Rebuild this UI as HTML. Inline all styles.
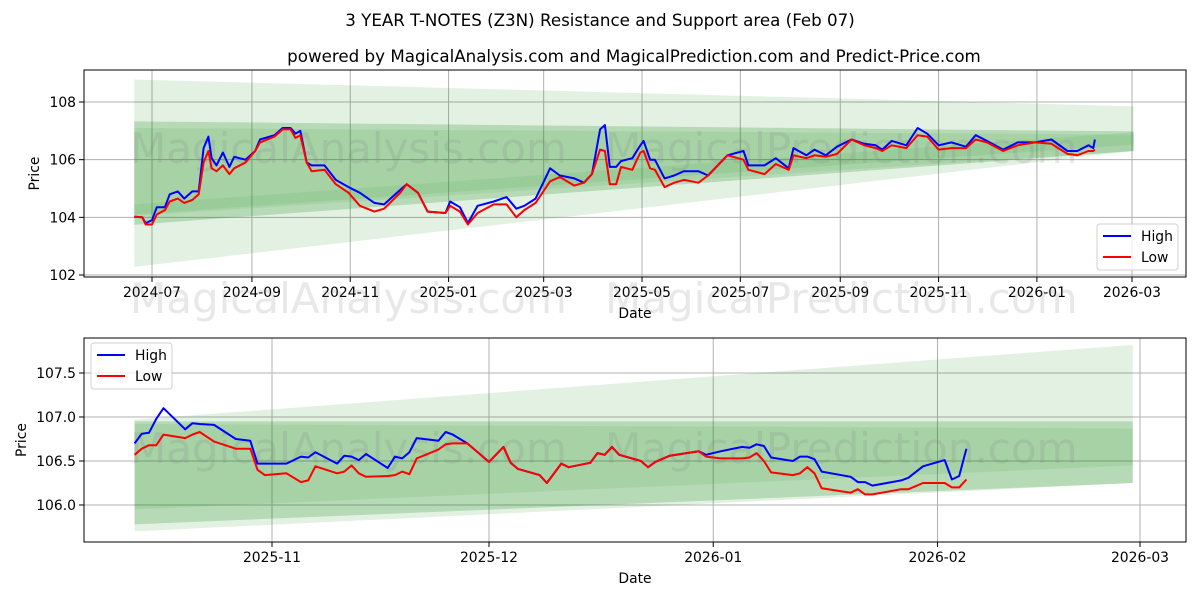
<!DOCTYPE html>
<html><head><meta charset="utf-8"><style>
body{margin:0;background:#fff;}
svg{display:block;font-family:"DejaVu Sans","Liberation Sans",sans-serif;}
</style></head><body>
<svg id="chart" width="1200" height="600" viewBox="0 0 1200 600" xmlns="http://www.w3.org/2000/svg">
<text x="600" y="26" text-anchor="middle" font-size="16.7">3 YEAR T-NOTES (Z3N) Resistance and Support area (Feb 07)</text>
<text x="634" y="62" text-anchor="middle" font-size="16.7">powered by MagicalAnalysis.com and MagicalPrediction.com and Predict-Price.com</text>
</svg>
<script>
// ---- top chart data ----
const topDates = ["2024-06-20","2024-06-25","2024-06-27","2024-07-01","2024-07-04","2024-07-09","2024-07-12","2024-07-17","2024-07-21","2024-07-26","2024-07-30","2024-08-02","2024-08-05","2024-08-07","2024-08-10","2024-08-14","2024-08-18","2024-08-21","2024-08-28","2024-09-03","2024-09-06","2024-09-15","2024-09-20","2024-09-25","2024-09-28","2024-10-01","2024-10-05","2024-10-08","2024-10-16","2024-10-23","2024-10-31","2024-11-07","2024-11-16","2024-11-22","2024-12-02","2024-12-06","2024-12-13","2024-12-19","2024-12-30","2025-01-02","2025-01-08","2025-01-13","2025-01-19","2025-01-29","2025-02-06","2025-02-12","2025-02-17","2025-02-24","2025-03-02","2025-03-05","2025-03-11","2025-03-20","2025-03-26","2025-03-31","2025-04-05","2025-04-08","2025-04-11","2025-04-15","2025-04-18","2025-04-25","2025-04-30","2025-05-02","2025-05-06","2025-05-09","2025-05-15","2025-05-21","2025-05-27","2025-06-05","2025-06-11","2025-06-23","2025-07-03","2025-07-06","2025-07-16","2025-07-23","2025-07-31","2025-08-03","2025-08-11","2025-08-16","2025-08-23","2025-08-30","2025-09-08","2025-09-16","2025-09-23","2025-09-27","2025-10-03","2025-10-12","2025-10-19","2025-10-25","2025-11-01","2025-11-09","2025-11-18","2025-11-24","2025-12-01","2025-12-11","2025-12-20","2025-12-31","2026-01-10","2026-01-20","2026-01-26","2026-02-02","2026-02-05","2026-02-06"];
const topHigh = [104.02,104.0,103.8,103.9,104.35,104.35,104.8,104.9,104.65,104.9,104.9,106.4,106.8,106.05,105.8,106.25,105.75,106.1,106.0,106.3,106.7,106.85,107.1,107.1,106.9,107.0,105.9,105.8,105.8,105.3,105.05,104.85,104.5,104.45,104.95,105.15,104.85,104.2,104.15,104.55,104.35,103.8,104.4,104.55,104.7,104.3,104.4,104.65,105.35,105.7,105.45,105.35,105.2,105.5,107.05,107.2,105.75,105.75,105.95,106.05,106.5,106.65,106.0,106.0,105.35,105.45,105.6,105.6,105.45,106.15,106.3,105.8,105.8,106.05,105.7,106.4,106.15,106.35,106.15,106.45,106.7,106.55,106.5,106.35,106.65,106.5,107.1,106.9,106.5,106.6,106.45,106.85,106.65,106.35,106.6,106.6,106.7,106.3,106.3,106.5,106.4,106.7];
const topLow = [104.02,104.0,103.75,103.75,104.1,104.25,104.55,104.65,104.5,104.6,104.8,105.9,106.3,105.7,105.6,105.8,105.5,105.7,105.9,106.3,106.6,106.8,107.05,107.05,106.75,106.85,105.9,105.6,105.65,105.15,104.85,104.4,104.2,104.3,104.85,105.15,104.85,104.2,104.15,104.4,104.2,103.75,104.15,104.45,104.45,104.0,104.25,104.5,105.0,105.25,105.4,105.1,105.2,105.5,106.35,106.3,105.15,105.15,105.75,105.65,106.25,106.3,105.7,105.65,105.05,105.2,105.3,105.2,105.45,106.15,106.0,105.65,105.5,105.85,105.65,106.15,106.05,106.15,106.1,106.2,106.7,106.5,106.4,106.3,106.5,106.4,106.85,106.8,106.35,106.4,106.4,106.7,106.6,106.3,106.5,106.6,106.55,106.2,106.15,106.3,106.3,106.35];
const topYTicks = [102,104,106,108];
const topXTicks = ["2024-07-01","2024-09-01","2024-11-01","2025-01-01","2025-03-01","2025-05-01","2025-07-01","2025-09-01","2025-11-01","2026-01-01","2026-03-01"];
const topXLabels = ["2024-07","2024-09","2024-11","2025-01","2025-03","2025-05","2025-07","2025-09","2025-11","2026-01","2026-03"];
const topBandDates = ["2024-06-20","2026-03-02"];
const topBandA = [[108.78,102.28],[107.85,106.3]];
const topBandB = [[107.33,103.74],[106.98,106.3]];
const topBandC = [[107.1,104.1],[106.87,106.52]];
const topBandD = [[104.45,104.05],[106.95,106.3]];

// ---- bottom chart data ----
const botDates = ["2025-10-13","2025-10-14","2025-10-15","2025-10-16","2025-10-17","2025-10-20","2025-10-21","2025-10-22","2025-10-24","2025-10-27","2025-10-29","2025-10-30","2025-10-31","2025-11-03","2025-11-05","2025-11-06","2025-11-07","2025-11-10","2025-11-11","2025-11-12","2025-11-13","2025-11-14","2025-11-17","2025-11-18","2025-11-19","2025-11-20","2025-11-21","2025-11-24","2025-11-25","2025-11-26","2025-11-28","2025-12-01","2025-12-03","2025-12-04","2025-12-05","2025-12-08","2025-12-09","2025-12-11","2025-12-12","2025-12-15","2025-12-16","2025-12-17","2025-12-18","2025-12-19","2025-12-22","2025-12-23","2025-12-24","2025-12-26","2025-12-30","2025-12-31","2026-01-02","2026-01-05","2026-01-06","2026-01-07","2026-01-08","2026-01-09","2026-01-12","2026-01-13","2026-01-14","2026-01-15","2026-01-16","2026-01-20","2026-01-21","2026-01-22","2026-01-23","2026-01-27","2026-01-28","2026-01-30","2026-02-02","2026-02-03","2026-02-04","2026-02-05"];
const botHigh = [106.70,106.81,106.82,106.98,107.10,106.86,106.93,106.92,106.91,106.75,106.73,106.47,106.47,106.47,106.55,106.54,106.60,106.47,106.56,106.55,106.51,106.58,106.42,106.55,106.53,106.60,106.76,106.73,106.83,106.80,106.70,106.49,106.66,106.48,106.41,106.34,106.25,106.47,106.43,106.48,106.59,106.57,106.66,106.57,106.50,106.43,106.49,106.56,106.61,106.57,106.61,106.66,106.65,106.69,106.67,106.54,106.50,106.55,106.55,106.52,106.38,106.32,106.26,106.26,106.22,106.28,106.31,106.44,106.51,106.29,106.33,106.64];
const botLow = [106.57,106.64,106.68,106.68,106.80,106.76,106.80,106.83,106.72,106.64,106.64,106.40,106.34,106.36,106.26,106.28,106.44,106.36,106.38,106.45,106.36,106.32,106.33,106.34,106.38,106.35,106.53,106.63,106.69,106.70,106.70,106.49,106.66,106.48,106.41,106.34,106.25,106.47,106.43,106.48,106.59,106.57,106.66,106.57,106.50,106.43,106.49,106.56,106.61,106.55,106.53,106.53,106.54,106.59,106.50,106.37,106.34,106.36,106.43,106.36,106.19,106.14,106.18,106.12,106.12,106.18,106.18,106.25,106.25,106.20,106.20,106.29];
const botYTicks = [106.0,106.5,107.0,107.5];
const botYLabels = ["106.0","106.5","107.0","107.5"];
const botXTicks = ["2025-11-01","2025-12-01","2026-01-01","2026-02-01","2026-03-01"];
const botXLabels = ["2025-11","2025-12","2026-01","2026-02","2026-03"];
const botBandDates = ["2025-10-13","2026-02-28"];
const botBandA = [[106.97,105.70],[107.82,106.25]];
const botBandB = [[106.95,105.78],[106.95,106.25]];
const botBandC = [[106.92,105.95],[106.87,106.45]];

const NS = "http://www.w3.org/2000/svg";
const svg = document.getElementById("chart");
function mk(tag, attrs, parent){
  const e = document.createElementNS(NS, tag);
  for (const k in attrs) e.setAttribute(k, attrs[k]);
  (parent||svg).appendChild(e);
  return e;
}
const t = s => new Date(s + "T00:00:00Z").getTime();

function drawChart(cfg){
  const g = mk("g", {});
  
  
  const xs = d => cfg.x0px + (t(d) - t(cfg.x0d)) / (t(cfg.x1d) - t(cfg.x0d)) * (cfg.x1px - cfg.x0px);
  const ys = v => cfg.y0px + (v - cfg.y0v) / (cfg.y1v - cfg.y0v) * (cfg.y1px - cfg.y0px);
  cfg.xTicks.forEach((d, i) => {
    const x = xs(d);
    const l = mk("line", {x1:x, x2:x, y1:cfg.top, y2:cfg.bottom, stroke:"#b0b0b0", "stroke-width":1}, g);
    
    
    const tk = mk("line", {x1:x, x2:x, y1:cfg.bottom, y2:cfg.bottom+5, stroke:"#000", "stroke-width":1}, g);
    
    
    const tx = mk("text", {x:x, y:cfg.bottom+20, "text-anchor":"middle", "font-size":13.9, fill:"#000"}, g);
    tx.textContent = cfg.xLabels[i];
    
    
  });
  cfg.yTicks.forEach((v, i) => {
    const y = ys(v);
    const l = mk("line", {x1:cfg.left, x2:cfg.right, y1:y, y2:y, stroke:"#b0b0b0", "stroke-width":1}, g);
    
    
    const tk = mk("line", {x1:cfg.left-5, x2:cfg.left, y1:y, y2:y, stroke:"#000", "stroke-width":1}, g);
    
    
    const tx = mk("text", {x:cfg.left-8, y:y+5, "text-anchor":"end", "font-size":13.9, fill:"#000"}, g);
    tx.textContent = cfg.yLabels[i];
    
    
  });
  cfg.bands.forEach((b, i) => {
    const xa = xs(cfg.bandDates[0]), xb = xs(cfg.bandDates[1]);
    const pts = [[xa, ys(b.v[0][0])],[xb, ys(b.v[1][0])],[xb, ys(b.v[1][1])],[xa, ys(b.v[0][1])]];
    const p = mk("polygon", {points: pts.map(q => q.join(",")).join(" "), fill:"#008000", "fill-opacity":b.op}, g);
    
    
  });
  cfg.marks.forEach(m => {
    const w = mk("text", {x:m[0], y:m[1], "font-size":42, fill:"#808080", "fill-opacity":0.18}, g);
    w.textContent = m[2];
    
    
  });
  const series = [[cfg.high, "#0000ff", "high-line"], [cfg.low, "#ff0000", "low-line"]];
  series.forEach(s => {
    const d = cfg.dates.map((dd, i) => (i ? "L" : "M") + xs(dd).toFixed(1) + "," + ys(s[0][i]).toFixed(1)).join(" ");
    const p = mk("path", {d:d, fill:"none", stroke:s[1], "stroke-width":2, "stroke-linejoin":"round"}, g);
    
    
  });
  const fr = mk("rect", {x:cfg.left, y:cfg.top, width:cfg.right-cfg.left, height:cfg.bottom-cfg.top, fill:"none", stroke:"#000", "stroke-width":1}, g);
  
  
  const xt = mk("text", {x:(cfg.left+cfg.right)/2, y:cfg.bottom+41, "text-anchor":"middle", "font-size":13.9}, g);
  xt.textContent = "Date";
  
  
  const yc = (cfg.top+cfg.bottom)/2;
  const yt = mk("text", {x:cfg.yTitleX, y:yc, "text-anchor":"middle", "font-size":13.9, transform:"rotate(-90 "+cfg.yTitleX+" "+yc+")"}, g);
  yt.textContent = "Price";
  
  
  const L = cfg.legend;
  const lg = mk("g", {}, g);
  
  
  mk("rect", {x:L[0], y:L[1], width:81, height:46, rx:3, fill:"#fff", "fill-opacity":0.8, stroke:"#d0d0d0"}, lg);
  [["High","#0000ff"],["Low","#ff0000"]].forEach((e, i) => {
    const y = L[1] + 12 + i*21;
    const ln = mk("line", {x1:L[0]+6, x2:L[0]+34, y1:y, y2:y, stroke:e[1], "stroke-width":2}, lg);
    
    
    const tx = mk("text", {x:L[0]+44, y:y+5, "font-size":13.9}, lg);
    tx.textContent = e[0];
    
    
  });
}

drawChart({
  name:"top-chart", left:84, right:1186, top:70, bottom:277,
  x0d:"2024-07-01", x1d:"2026-03-01", x0px:152, x1px:1132,
  y0v:102, y1v:108, y0px:275, y1px:102,
  xTicks:topXTicks, xLabels:topXLabels, yTicks:topYTicks, yLabels:topYTicks.map(String),
  bandDates:topBandDates,
  bands:[{v:topBandA, op:0.11},{v:topBandB, op:0.2},{v:topBandC, op:0.08},{v:topBandD, op:0.07}],
  marks:[[130,163,"MagicalAnalysis.com"],[605,163,"MagicalPrediction.com"],[130,313,"MagicalAnalysis.com"],[605,313,"MagicalPrediction.com"]],
  dates:topDates, high:topHigh, low:topLow, yTitleX:39, legend:[1097,224]
});
drawChart({
  name:"bottom-chart", left:84, right:1186, top:338, bottom:542,
  x0d:"2025-11-01", x1d:"2026-03-01", x0px:272, x1px:1140,
  y0v:106, y1v:107.5, y0px:505, y1px:373,
  xTicks:botXTicks, xLabels:botXLabels, yTicks:botYTicks, yLabels:botYLabels,
  bandDates:botBandDates,
  bands:[{v:botBandA, op:0.11},{v:botBandB, op:0.2},{v:botBandC, op:0.08}],
  marks:[[130,463,"MagicalAnalysis.com"],[605,463,"MagicalPrediction.com"]],
  dates:botDates, high:botHigh, low:botLow, yTitleX:26, legend:[91,343]
});
</script>
</body></html>
